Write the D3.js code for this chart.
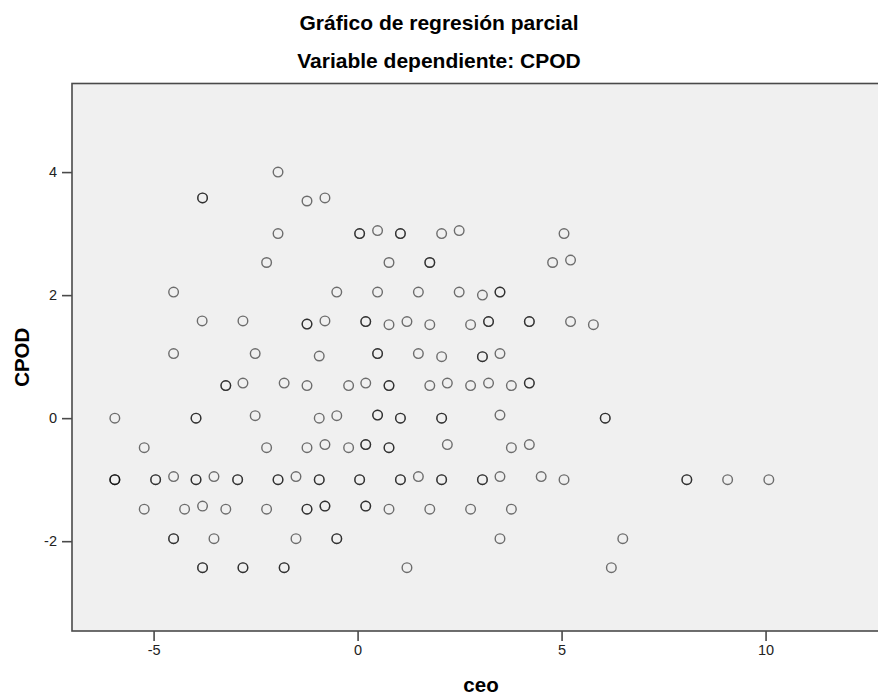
<!DOCTYPE html>
<html>
<head>
<meta charset="utf-8">
<script src="https://cdnjs.cloudflare.com/ajax/libs/d3/7.8.5/d3.min.js"></script>
<style>
  body { margin: 0; background: #fff; }
  svg { display: block; font-family: "Liberation Sans", Arial, sans-serif; }
  .title { font-size: 21px; font-weight: bold; fill: #000; }
  .axis-label { font-size: 20.5px; font-weight: bold; fill: #000; }
  .tick text { font-size: 14.5px; fill: #222; }
</style>
</head>
<body>
<div id="chart"></div>
<script>
// partial regression plot (repeated pairs = overlapping points)
var ceo = [
  -1.95, -3.80, -3.80, -1.24, -0.80,
  -1.95, 0.05, 0.05, 0.49, 1.05, 1.05, 2.06, 2.49, 5.06,
  -2.23, 0.77, 1.77, 1.77, 4.78, 5.22,
  -4.51, -0.51, 0.49, 1.49, 2.49, 3.06, 3.49, 3.49,
  -3.81, -2.81, -1.24, -1.24, -0.80, 0.20, 0.20, 0.77, 1.21, 1.77, 2.77, 3.21, 3.21, 4.21, 4.21, 5.22, 5.78,
  -4.51, -2.51, -0.94, 0.49, 0.49, 1.49, 2.06, 3.06, 3.06, 3.49,
  -3.23, -3.23, -2.81, -1.80, -1.24, -0.22, 0.20, 0.77, 0.77, 1.77, 2.20, 2.77, 3.21, 3.77, 4.21, 4.21,
  -5.95, -3.96, -3.96, -2.51, -0.94, -0.51, 0.49, 0.49, 1.05, 1.05, 2.06, 2.06, 3.49, 6.07, 6.07,
  -5.23, -2.23, -1.24, -0.80, -0.22, 0.20, 0.20, 0.77, 0.77, 2.20, 3.77, 4.21,
  -5.95, -5.95, -5.95, -4.95, -4.95, -4.51, -3.96, -3.96, -3.52, -2.94, -2.94, -1.95, -1.95, -1.51,
  -0.94, -0.94, 0.05, 0.05, 1.05, 1.05, 1.49, 2.06, 2.06, 3.06, 3.06, 3.49, 4.50, 5.06,
  8.07, 8.07, 9.07, 10.08,
  -5.23, -4.24, -3.80, -3.23, -2.23, -1.24, -1.24, -0.80, -0.80, 0.20, 0.20, 0.77, 1.77, 2.77, 3.77,
  -4.51, -4.51, -3.52, -1.51, -0.51, -0.51, 3.49, 6.50,
  -3.80, -3.80, -2.81, -2.81, -1.80, -1.80, 1.21, 6.22
];
var cpod = [
  4.00, 3.58, 3.58, 3.53, 3.58,
  3.00, 3.00, 3.00, 3.05, 3.00, 3.00, 3.00, 3.05, 3.00,
  2.53, 2.53, 2.53, 2.53, 2.53, 2.57,
  2.05, 2.05, 2.05, 2.05, 2.05, 2.00, 2.05, 2.05,
  1.58, 1.58, 1.53, 1.53, 1.58, 1.57, 1.57, 1.52, 1.57, 1.52, 1.52, 1.57, 1.57, 1.57, 1.57, 1.57, 1.52,
  1.05, 1.05, 1.01, 1.05, 1.05, 1.05, 1.00, 1.00, 1.00, 1.05,
  0.53, 0.53, 0.57, 0.57, 0.53, 0.53, 0.57, 0.53, 0.53, 0.53, 0.57, 0.53, 0.57, 0.53, 0.57, 0.57,
  0.00, 0.00, 0.00, 0.04, 0.00, 0.04, 0.05, 0.05, 0.00, 0.00, 0.00, 0.00, 0.05, 0.00, 0.00,
  -0.48, -0.48, -0.48, -0.43, -0.48, -0.43, -0.43, -0.48, -0.48, -0.43, -0.48, -0.43,
  -1.00, -1.00, -1.00, -1.00, -1.00, -0.95, -1.00, -1.00, -0.95, -1.00, -1.00, -1.00, -1.00, -0.95,
  -1.00, -1.00, -1.00, -1.00, -1.00, -1.00, -0.95, -1.00, -1.00, -1.00, -1.00, -0.95, -0.95, -1.00,
  -1.00, -1.00, -1.00, -1.00,
  -1.48, -1.48, -1.43, -1.48, -1.48, -1.48, -1.48, -1.43, -1.43, -1.43, -1.43, -1.48, -1.48, -1.48, -1.48,
  -1.96, -1.96, -1.96, -1.96, -1.96, -1.96, -1.96, -1.96,
  -2.43, -2.43, -2.43, -2.43, -2.43, -2.43, -2.43, -2.43
];
var xTicks = [-5, 0, 5, 10];
var yTicks = [-2, 0, 2, 4];
var titleText = "Gráfico de regresión parcial";
var subtitleText = "Variable dependiente: CPOD";
var xLabel = "ceo", yLabel = "CPOD";

var width = 878, height = 695;
// plot box runs off the right edge of the picture, like the source
var margin = {top: 83.5, right: -12, bottom: 64, left: 72};

var x = d3.scaleLinear().domain([-7, 13.05]).range([margin.left, width - margin.right]);
var y = d3.scaleLinear().domain([-3.46, 5.44]).range([height - margin.bottom, margin.top]);

var svg = d3.select("#chart").append("svg")
    .attr("width", width)
    .attr("height", height);

svg.append("rect")
    .attr("x", margin.left)
    .attr("y", margin.top)
    .attr("width", x.range()[1] - margin.left)
    .attr("height", y.range()[0] - margin.top)
    .attr("fill", "#f0f0f0")
    .attr("stroke", "#4a4a4a")
    .attr("stroke-width", 1.6);

// plain hyphen for negatives, as in the source
var fmt = function(d) { return String(d); };

var xAxis = svg.append("g")
    .attr("transform", "translate(0," + y.range()[0] + ")")
    .call(d3.axisBottom(x).tickValues(xTicks).tickSize(10).tickPadding(4).tickFormat(fmt));
var yAxis = svg.append("g")
    .attr("transform", "translate(" + margin.left + ",0)")
    .call(d3.axisLeft(y).tickValues(yTicks).tickSize(10).tickPadding(5).tickFormat(fmt));
[xAxis, yAxis].forEach(function(a) {
  a.select(".domain").remove();
  a.selectAll(".tick line").attr("stroke", "#4a4a4a").attr("stroke-width", 1.6);
  a.selectAll(".tick text").attr("font-family", null).attr("font-size", null);
});

// points: translucent strokes so repeated cases show darker
svg.append("g").selectAll("circle")
    .data(d3.range(ceo.length))
  .enter().append("circle")
    .attr("cx", function(i) { return x(ceo[i]); })
    .attr("cy", function(i) { return y(cpod[i]); })
    .attr("r", 4.8)
    .attr("fill", "none")
    .attr("stroke", "#000")
    .attr("stroke-opacity", 0.55)
    .attr("stroke-width", 1.4);

svg.append("text").attr("class", "title")
    .attr("x", width / 2).attr("y", 30)
    .attr("text-anchor", "middle").text(titleText);
svg.append("text").attr("class", "title")
    .attr("x", width / 2).attr("y", 68)
    .attr("text-anchor", "middle").text(subtitleText);

svg.append("text").attr("class", "axis-label")
    .attr("x", (x.range()[0] + x.range()[1]) / 2).attr("y", 692)
    .attr("text-anchor", "middle").text(xLabel);
svg.append("text").attr("class", "axis-label")
    .attr("transform", "translate(28.5," + ((y.range()[0] + y.range()[1]) / 2) + ") rotate(-90)")
    .attr("text-anchor", "middle").text(yLabel);
</script>
</body>
</html>
